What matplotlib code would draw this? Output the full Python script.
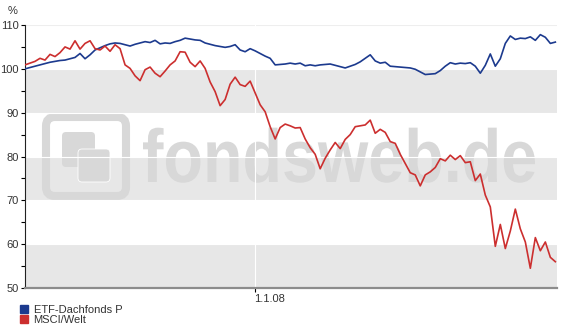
import matplotlib
matplotlib.use("Agg")
import matplotlib.pyplot as plt
from matplotlib.lines import Line2D
from matplotlib.patches import FancyBboxPatch, PathPatch
from matplotlib.textpath import TextPath
from matplotlib.font_manager import FontProperties
from matplotlib.transforms import Affine2D, IdentityTransform
import pandas as pd

# values (indexed, start = 100)
etf = [100.0, 100.3, 100.6, 100.9, 101.2, 101.5, 101.7, 101.9, 102.0, 102.3,
       102.6, 103.5, 102.3, 103.2, 104.3, 104.8, 105.3, 105.7, 105.9, 105.8,
       105.5, 105.2, 105.6, 105.9, 106.2, 106.0, 106.5, 105.7, 105.9, 105.8,
       106.2, 106.5, 107.0, 106.8, 106.6, 106.5, 105.9, 105.6, 105.3, 105.1,
       104.9, 105.1, 105.5, 104.3, 103.9, 104.6, 104.1, 103.5, 102.9, 102.4,
       100.9, 101.0, 101.1, 101.3, 101.1, 101.3, 100.7, 100.9, 100.7, 100.9,
       101.0, 101.1, 100.8, 100.5, 100.2, 100.6, 101.0, 101.6, 102.4, 103.2,
       101.8, 101.3, 101.5, 100.6, 100.5, 100.4, 100.3, 100.2, 99.9, 99.3,
       98.7, 98.8, 98.9, 99.6, 100.6, 101.4, 101.1, 101.3, 101.2, 101.4,
       100.6, 99.0, 100.8, 103.4, 100.6, 102.3, 105.8, 107.5, 106.7, 107.0,
       106.9, 107.3, 106.5, 107.8, 107.2, 105.8, 106.1]

msci = [100.9, 101.3, 101.7, 102.4, 102.0, 103.3, 102.8, 103.7, 105.0, 104.5,
        106.4, 104.5, 105.8, 106.4, 104.6, 104.3, 105.2, 104.0, 105.5, 104.6,
        100.9, 100.1, 98.4, 97.3, 99.8, 100.4, 99.0, 98.2, 99.5, 100.9,
        101.8, 103.9, 103.8, 101.5, 100.5, 101.8, 100.1, 97.0, 94.8, 91.6,
        93.0, 96.5, 98.1, 96.4, 96.0, 97.2, 94.5, 91.8, 90.2, 86.8,
        84.0, 86.6, 87.4, 87.0, 86.5, 86.6, 84.0, 82.0, 80.5, 77.2,
        79.6, 81.5, 83.2, 81.8, 83.9, 85.0, 86.8, 87.0, 87.2, 88.3,
        85.3, 86.2, 85.5, 83.4, 83.0, 80.5, 78.4, 76.3, 75.8, 73.3,
        75.8, 76.5, 77.5, 79.5, 79.0, 80.3, 79.3, 80.2, 78.6, 78.8,
        74.5, 76.0, 71.2, 68.5, 59.5, 64.5, 59.0, 63.0, 68.0, 63.5,
        60.5, 54.5, 61.5, 58.5, 60.5, 57.0, 56.0]

names = ["ETF-Dachfonds P", "MSCI/Welt"]
colors = ["#1c3a8e", "#cc2f2f"]
bands = [(90, 100), (70, 80), (50, 60)]
yticks = [50, 60, 70, 80, 90, 100, 110]

dates = pd.date_range("2007-03-30", "2008-12-29", periods=len(etf))

plt.rcParams["font.family"] = ["Liberation Sans", "DejaVu Sans"]

fig = plt.figure(figsize=(5.65, 3.3), dpi=100)
ax = fig.add_axes([25 / 565, 1 - 288 / 330, 532 / 565, 263 / 330])

for lo, hi in bands:
    ax.axhspan(lo, hi, color="#e7e7e7", lw=0, zorder=1)

# fondsweb watermark, drawn in pixel coords
wm = "#d8d8d8"
fp = FontProperties(family="Liberation Sans", weight="bold")
tp = TextPath((0, 0), "fondsweb.de", size=1, prop=fp)
ext = tp.get_extents()
sx = 392 / ext.width
tr = Affine2D().translate(-ext.x0, 0).scale(sx, 75).translate(143, 330 - 182)
ax.add_patch(PathPatch(tr.transform_path(tp), color=wm, lw=0,
                       transform=IdentityTransform(), zorder=1.5))
ax.add_patch(FancyBboxPatch((46, 330 - 196), 80, 79, boxstyle="round,pad=0,rounding_size=9",
                            fill=False, ec=wm, lw=5.8, transform=IdentityTransform(), zorder=1.5))
ax.add_patch(FancyBboxPatch((62, 330 - 167), 33, 35, boxstyle="round,pad=0,rounding_size=4",
                            fc=wm, ec="none", transform=IdentityTransform(), zorder=1.5))
ax.add_patch(FancyBboxPatch((78, 330 - 182), 32, 33, boxstyle="round,pad=0,rounding_size=4",
                            fc=wm, ec="white", lw=0.6, transform=IdentityTransform(), zorder=1.5))

for v in yticks[1:-1]:
    ax.axhline(v, color="white", lw=0.8, zorder=1.8)
ax.axhline(110, color="#eeeeee", lw=0.8, zorder=1.8)
ax.axvline(pd.Timestamp("2008-01-01"), color="white", lw=0.8, zorder=1.8)

ax.plot(dates, etf, color=colors[0], lw=1.2, zorder=3)
ax.plot(dates, msci, color=colors[1], lw=1.2, zorder=3)

ax.set_ylim(50, 110)
ax.set_xlim(pd.Timestamp("2007-03-30"), pd.Timestamp("2008-12-31"))
ax.set_yticks(yticks)
ax.set_yticks(range(55, 110, 10), minor=True)
ax.set_xticks([pd.Timestamp("2008-01-01")])
ax.set_xticklabels(["1.1.08"], ha="left")
ax.tick_params(axis="y", which="both", length=3, width=0.8, pad=1.5, labelsize=8, labelcolor="#333333")
ax.tick_params(axis="x", length=3, width=0.8, pad=1, labelsize=8, labelcolor="#333333")
for s in ["top", "right"]:
    ax.spines[s].set_visible(False)
ax.spines["left"].set_color("#222222")
ax.spines["left"].set_linewidth(0.8)
ax.spines["bottom"].set_color("#8c8c8c")
ax.spines["bottom"].set_linewidth(1.6)

fig.text(8 / 565, 1 - 11 / 330, "%", fontsize=8, color="#333333", va="center")

handles = [Line2D([], [], ls="none", marker="s", ms=5.5, mfc=c, mec=c) for c in colors]
fig.legend(handles, names, loc="upper left", bbox_to_anchor=(0.02, 1 - 297 / 330),
           frameon=False, fontsize=8, handlelength=0.8, handletextpad=0.5,
           labelspacing=0.05, borderpad=0.2, labelcolor="#333333")

fig.savefig("out.png", dpi=100)
